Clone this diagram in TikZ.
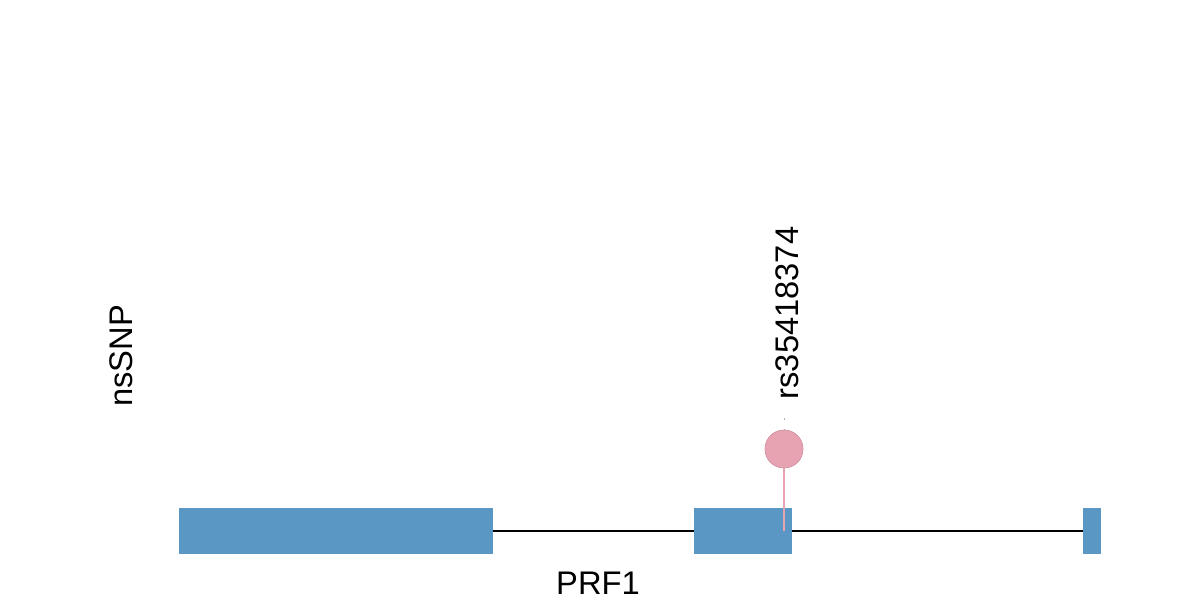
\documentclass[tikz,border=0pt]{standalone}
\usepackage{fontspec}
\setmainfont{Liberation Sans}
\usetikzlibrary{positioning}
\definecolor{exonblue}{HTML}{5B97C4}
\definecolor{snppink}{HTML}{E8A3B3}
\tikzset{
    exon/.style={rectangle,fill=exonblue,inner sep=0pt,outer sep=0pt,minimum height=0.92cm},
    intron/.style={draw,black,line width=1.1pt},
    snpdot/.style={circle,fill=snppink,draw=snppink!90!black,line width=0.3pt,inner sep=0pt,minimum size=0.76cm},
    stem/.style={draw=snppink,line width=1.1pt},
    tick/.style={draw=gray!60,line width=0.4pt,dash pattern=on 1pt off 5pt},
    label/.style={font=\fontsize{18.6}{22}\selectfont,inner sep=0pt}
}

\begin{document}
\begin{tikzpicture}[x=0.02cm,y=-0.02cm]
\useasboundingbox (0,0) rectangle (1200,600);

% Exons
\node[exon,minimum width=6.28cm] (ex1) at (336,531) {};
\node[exon,minimum width=1.96cm] (ex2) at (743,531) {};
\node[exon,minimum width=0.36cm] (ex3) at (1092,531) {};

% Introns
\path (ex1.east) edge[intron] (ex2.west);
\path (ex2.east) edge[intron] (ex3.west);

% SNP
\coordinate (snpbase) at (784,531);
\coordinate (snptop) at (784,418);
\node[snpdot] (snp) at (784,449) {};
\path (snpbase) edge[stem] (snp.south);
\path (snptop) edge[tick] (snp.north);
\node[snpdot] at (snp) {};

% Labels
\node[label,rotate=90] (snpname) at (787,313) {rs35418374};
\node[label,rotate=90] (track) at (121,356) {nsSNP};
\node[label] (gene) at (598,583) {PRF1};

\end{tikzpicture}
\end{document}
